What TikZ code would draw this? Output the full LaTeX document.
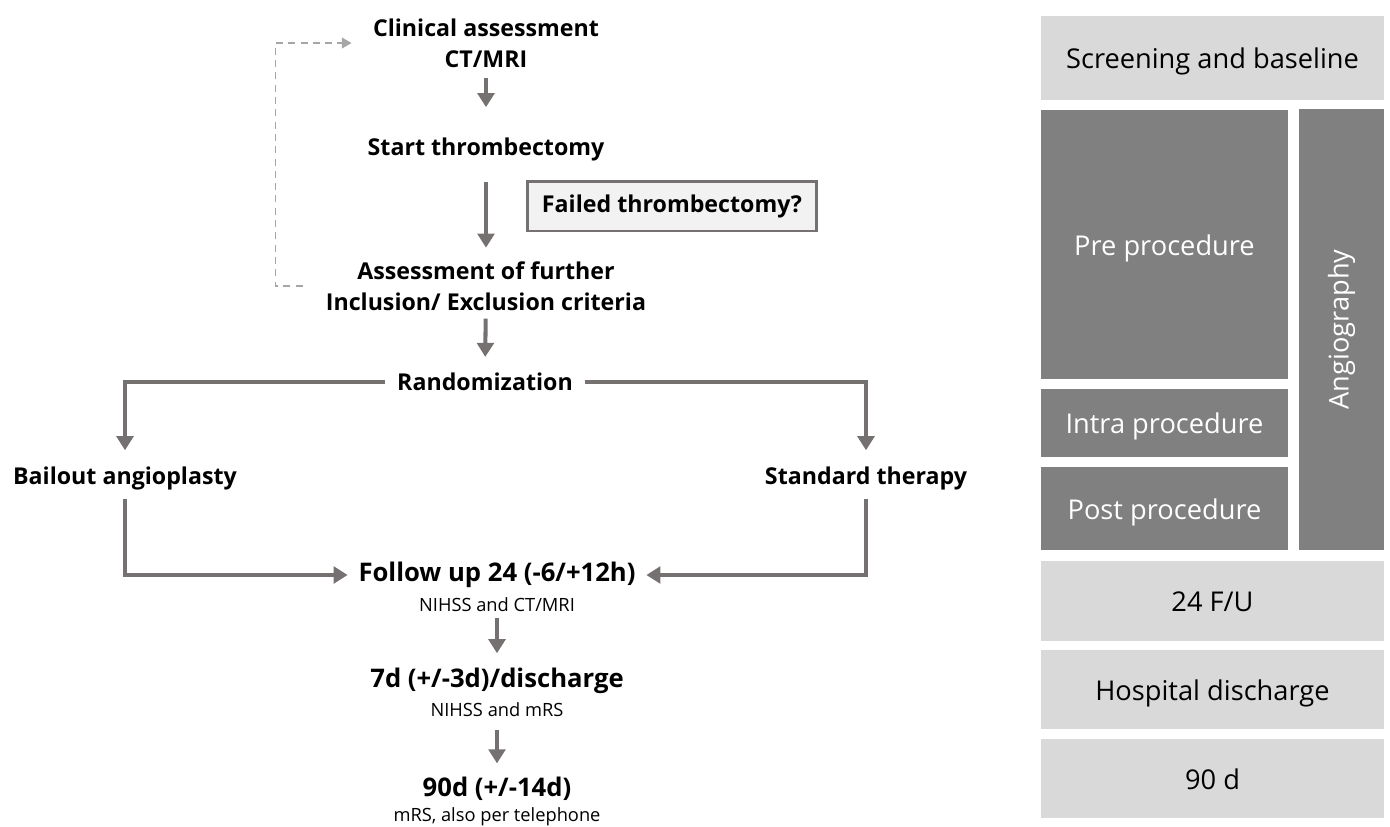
\documentclass[tikz,border=0pt]{standalone}
\usepackage{fontspec}
\setmainfont{Open Sans}
\usetikzlibrary{arrows.meta}

\definecolor{arrowgray}{RGB}{118,113,113}
\definecolor{dashgray}{RGB}{166,166,166}
\definecolor{lightbox}{RGB}{217,217,217}
\definecolor{darkbox}{RGB}{128,128,128}
\definecolor{failfill}{RGB}{242,242,242}

\tikzset{
  head/.style={font=\fontsize{13.2}{17.6}\selectfont\bfseries, align=center, inner sep=0pt},
  bighead/.style={font=\fontsize{14.6}{17}\selectfont\bfseries, inner sep=0pt},
  sub/.style={font=\fontsize{10.4}{12}\selectfont, inner sep=0pt},
  flow/.style={draw=arrowgray, line width=2.3pt, -{Triangle[length=8pt,width=9.5pt]}},
  loopback/.style={draw=dashgray, line width=1pt, dash pattern=on 4pt off 3pt, -{Triangle[length=5.5pt,width=6pt]}},
  phase/.style={fill=lightbox, font=\fontsize{15.5}{18}\selectfont, inner sep=0pt, text height=13pt, text depth=0.6pt},
  procbox/.style={fill=darkbox, text=white, font=\fontsize{15.5}{18}\selectfont, inner sep=0pt, text height=13pt, text depth=0.6pt},
}

\begin{document}
\begin{tikzpicture}[x=0.02cm, y=-0.02cm]
	\useasboundingbox (0,0) rectangle (1390,826);

	% flow chart
	\node[head] (clin) at (486,43) {Clinical assessment\\CT/MRI};
	\node[head] (start) at (486,149) {Start thrombectomy};
	\node[head, draw=arrowgray, line width=1.7pt, fill=failfill, minimum width=5.8cm, minimum height=1cm] (failed) at (672,206) {Failed thrombectomy?};
	\node[head] (assess) at (486,286) {Assessment of further\\Inclusion/ Exclusion criteria};
	\node[head] (rand) at (485,382) {Randomization};

	\node[head] (bail) at (125,478) {Bailout angioplasty};
	\node[head] (std) at (866,478) {Standard therapy};

	\node[bighead] (fu) at (497,575) {Follow up 24 (-6/+12h)};
	\node[sub] (fusub) at (497,605) {NIHSS and CT/MRI};
	\node[bighead] (sev) at (497,681) {7d (+/-3d)/discharge};
	\node[sub] (sevsub) at (497,710) {NIHSS and mRS};
	\node[bighead] (ninety) at (497,789) {90d (+/-14d)};
	\node[sub] (ninetysub) at (497,817) {mRS, also per telephone};

	\draw[flow, shorten <=6pt, shorten >=17pt] (clin) -- (start);
	\draw[flow, shorten <=12pt, shorten >=7.7pt] (start) -- (assess);
	\draw[flow, shorten <=4.5pt, shorten >=9pt] (assess) -- (rand);

	\draw[flow, shorten <=7pt, shorten >=9pt] (rand.west) -| (bail.north);
	\draw[flow, shorten <=7pt, shorten >=9pt] (rand.east) -| (std.north);
	\draw[flow, shorten <=5.4pt, shorten >=6pt] (bail.south) |- (fu.west);
	\draw[flow, shorten <=5.4pt, shorten >=6pt] (std.south) |- (fu.east);

	\draw[flow, shorten <=3.4pt, shorten >=8.3pt] (fusub) -- (sev);
	\draw[flow, shorten <=7.4pt, shorten >=7.7pt] (sevsub) -- (ninety);

	\draw[loopback, shorten <=13pt, shorten >=12pt] (assess.west) -- ++(-50,0) |- (clin.west);

	% study phases
	\node[phase, minimum width=6.86cm, minimum height=1.68cm] (screen) at (1212.5,58) {Screening and baseline};
	\node[procbox, minimum width=4.94cm, minimum height=5.38cm] (pre) at (1164.5,244.5) {Pre procedure};
	\node[procbox, minimum width=4.94cm, minimum height=1.36cm] (intra) at (1164.5,423) {Intra procedure};
	\node[procbox, minimum width=4.94cm, minimum height=1.66cm] (post) at (1164.5,508.5) {Post procedure};
	\node[fill=darkbox, text=white, font=\fontsize{15.5}{18}\selectfont, inner sep=0pt, rotate=90, minimum width=8.82cm, minimum height=1.7cm] (angio) at (1341.5,329.5) {Angiography};
	\node[phase, minimum width=6.86cm, minimum height=1.6cm] (fuday) at (1212.5,601) {24 F/U};
	\node[phase, minimum width=6.86cm, minimum height=1.58cm] (hosp) at (1212.5,689.5) {Hospital discharge};
	\node[phase, minimum width=6.86cm, minimum height=1.58cm] (dninety) at (1212.5,778.5) {90 d};
\end{tikzpicture}
\end{document}
